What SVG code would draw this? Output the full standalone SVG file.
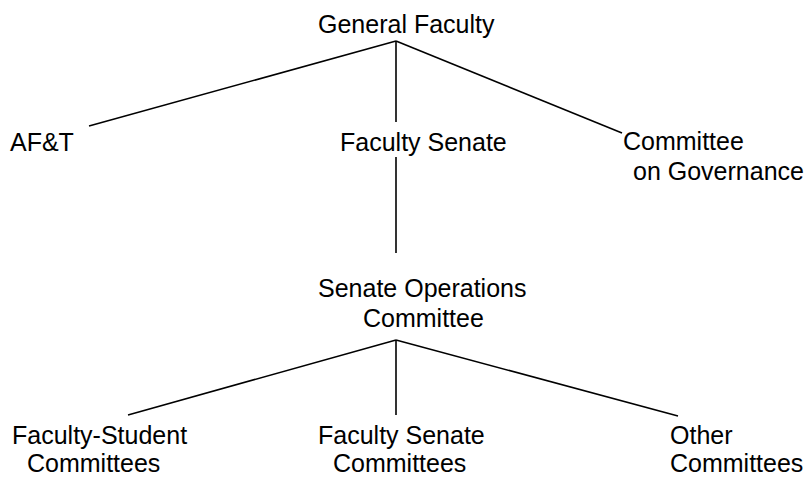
<svg xmlns="http://www.w3.org/2000/svg" width="804" height="477" viewBox="0 0 804 477">
<style>
text{font-family:"Liberation Sans",Arial,sans-serif;font-size:25px;fill:#000}
.c line{stroke:#000;stroke-width:1.6;fill:none}
</style>
<rect width="804" height="477" fill="#fff"/>
<g class="c" id="connectors">
<line x1="396" y1="41" x2="89" y2="126"/>
<line x1="396" y1="41" x2="396" y2="122"/>
<line x1="396" y1="41" x2="622" y2="133"/>
<line x1="396" y1="157" x2="396" y2="253"/>
<line x1="396" y1="340" x2="128" y2="415"/>
<line x1="396" y1="340" x2="396" y2="415"/>
<line x1="396" y1="340" x2="678" y2="416"/>
</g>
<g id="general-faculty"><text x="318" y="33">General Faculty</text></g>
<g id="aft"><text x="10" y="151">AF&amp;T</text></g>
<g id="faculty-senate"><text x="340" y="151">Faculty Senate</text></g>
<g id="committee-governance"><text x="623" y="150">Committee</text><text x="633" y="180">on Governance</text></g>
<g id="senate-operations"><text x="318" y="297">Senate Operations</text><text x="363" y="327">Committee</text></g>
<g id="faculty-student"><text x="12" y="444">Faculty-Student</text><text x="27" y="472">Committees</text></g>
<g id="faculty-senate-committees"><text x="318" y="444">Faculty Senate</text><text x="333" y="472">Committees</text></g>
<g id="other-committees"><text x="670" y="444">Other</text><text x="670" y="472">Committees</text></g>
</svg>
